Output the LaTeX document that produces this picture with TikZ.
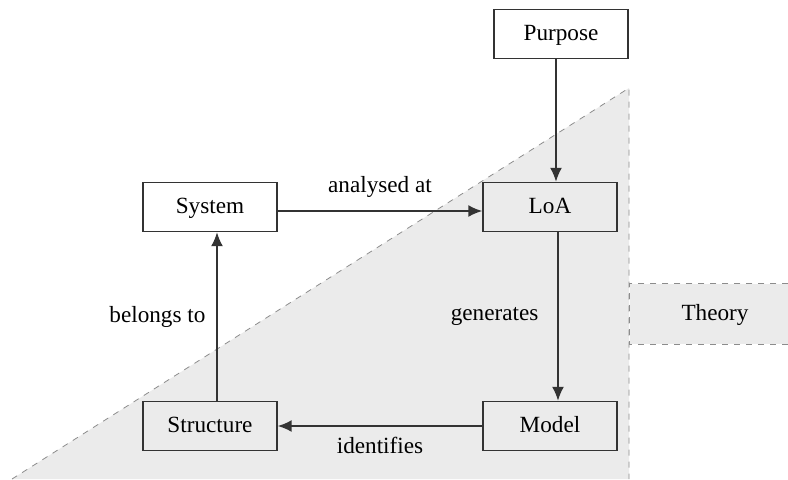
\documentclass[tikz,border=0pt]{standalone}
\usepackage{fontspec}
\setmainfont{Liberation Serif}
\usetikzlibrary{arrows.meta,positioning}
\begin{document}
\begin{tikzpicture}[x=0.5pt,y=-0.5pt,
    font=\fontsize{11.6}{14}\selectfont,
    box/.style={draw=black!80, line width=0.7pt, minimum width=67pt, minimum height=24.5pt, inner sep=0pt, text height=0.66em, text depth=0pt},
    link/.style={draw=black!80, line width=0.9pt, -{Latex[length=7pt,width=6pt]}},
    zone/.style={draw=black!45, dashed, line width=0.4pt}]
    \useasboundingbox (0,0) rectangle (788,479);
    % theory region
    \fill[black!8] (12,479) -- (629,88) -- (629,479) -- cycle;
    \draw[zone] (12,479) -- (629,88) -- (629,479);
    \node[fill=black!8, minimum width=85pt, minimum height=30pt, inner sep=0pt, text height=0.66em, text depth=0pt] (theory) at (715,314) {Theory};
    \draw[zone] (theory.north east) -- (theory.north west) -- (theory.south west) -- (theory.south east);
    % boxes
    \node[box] (purpose) at (561,34) {Purpose};
    \node[box] (loa) at (550,207) {LoA};
    \node[box] (system) at (210,207) {System};
    \node[box] (structure) at (210,426) {Structure};
    \node[box] (model) at (550,426) {Model};
    % arrows
    \draw[link] ([xshift=-2.5pt]purpose.south) -- ([xshift=3pt]loa.north);
    \draw[link] ([yshift=-2pt]system.east) -- ([yshift=-2pt]loa.west) node[midway, above=3pt]{analysed at};
    \draw[link] ([xshift=4pt]loa.south) -- ([xshift=4pt]model.north) node[midway, left=6pt]{generates};
    \draw[link] (model.west) -- (structure.east) node[midway, below=2pt]{identifies};
    \draw[link] ([xshift=3.5pt]structure.north) -- ([xshift=3.5pt]system.south) node[midway, left=2pt]{belongs to};
\end{tikzpicture}
\end{document}
